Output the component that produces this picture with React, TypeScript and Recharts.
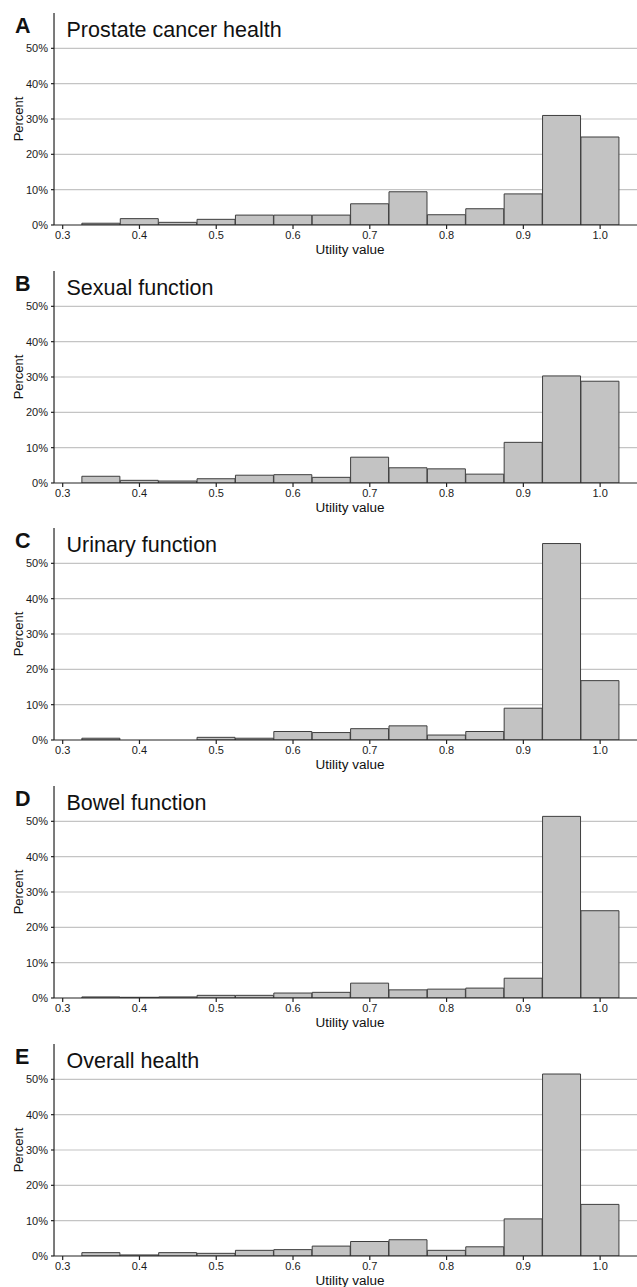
import React from 'react';
import { BarChart, Bar, XAxis, YAxis, CartesianGrid, Label } from 'recharts';

// Bin centers of the utility-value histogram (bin width 0.05)
const binCenters = [0.35, 0.4, 0.45, 0.5, 0.55, 0.6, 0.65, 0.7, 0.75, 0.8, 0.85, 0.9, 0.95, 1.0];

// Percent of respondents per bin
const prostateCancerHealth = [0.5, 1.8, 0.75, 1.6, 2.8, 2.8, 2.8, 6.0, 9.4, 2.9, 4.6, 8.8, 31.0, 24.9];
const sexualFunction = [1.9, 0.75, 0.55, 1.2, 2.2, 2.35, 1.6, 7.3, 4.3, 4.0, 2.5, 11.5, 30.3, 28.8];
const urinaryFunction = [0.5, 0, 0, 0.75, 0.5, 2.4, 2.1, 3.2, 4.0, 1.4, 2.4, 9.0, 55.6, 16.8];
const bowelFunction = [0.3, 0.2, 0.3, 0.75, 0.75, 1.4, 1.6, 4.2, 2.3, 2.5, 2.8, 5.6, 51.4, 24.7];
const overallHealth = [0.95, 0.3, 0.95, 0.75, 1.6, 1.8, 2.8, 4.1, 4.6, 1.6, 2.6, 10.5, 51.5, 14.6];

const panelLetters = ['A', 'B', 'C', 'D', 'E'];
const panelTitles = ['Prostate cancer health', 'Sexual function', 'Urinary function', 'Bowel function', 'Overall health'];
const panelSeries = [prostateCancerHealth, sexualFunction, urinaryFunction, bowelFunction, overallHealth];

const xTicks = [0.3, 0.4, 0.5, 0.6, 0.7, 0.8, 0.9, 1.0];
const yTicks = [0, 10, 20, 30, 40, 50];
const xDomain = [0.2887, 1.048];
const yDomain = [0, 60];
const xAxisTitle = 'Utility value';
const yAxisTitle = 'Percent';

const FONT = '"Liberation Sans", Arial, Helvetica, sans-serif';
const W = 637;
const PANEL_H = 257.7;
const TOP = 13;
const PLOT_H = 212;
const Y_AXIS_W = 54;

function Panel({ index }: { index: number }) {
  const data = binCenters.map((x, i) => ({ x, v: panelSeries[index][i] }));
  return (
    <div style={{ position: 'absolute', left: 0, top: index * PANEL_H, width: W, height: PANEL_H }}>
      <BarChart
        width={W}
        height={PANEL_H}
        data={data}
        margin={{ top: TOP, right: 0, bottom: 0, left: 0 }}
        barCategoryGap={0}
        barGap={0}
        style={{ fontFamily: FONT }}
      >
        <CartesianGrid
          vertical={false}
          horizontalValues={yTicks.slice(1)}
          syncWithTicks
          stroke="#c4c4c4"
          strokeWidth={1.2}
        />
        <XAxis
          type="number"
          dataKey="x"
          domain={xDomain}
          ticks={xTicks}
          allowDataOverflow
          height={PANEL_H - TOP - PLOT_H}
          tickFormatter={(v: number) => v.toFixed(1)}
          tick={{ fontSize: 11, fill: '#1a1a1a', fontFamily: FONT }}
          tickSize={4}
          tickMargin={2}
          stroke="#222"
          strokeWidth={1.2}
          interval={0}
        >
          <Label
            content={(props: any) => {
              const vb = props.viewBox || {};
              const cx = (vb.x ?? Y_AXIS_W) + (vb.width ?? W - Y_AXIS_W) / 2 + 4.5;
              const by = (vb.y ?? TOP + PLOT_H) + 29.5;
              return (
                <text
                  x={cx}
                  y={by}
                  textAnchor="middle"
                  style={{ fontSize: 13.5, fill: '#111', fontFamily: FONT }}
                >
                  {xAxisTitle}
                </text>
              );
            }}
          />
        </XAxis>
        <YAxis
          type="number"
          domain={yDomain}
          ticks={yTicks}
          width={Y_AXIS_W}
          allowDataOverflow
          tickFormatter={(v: number) => `${v}%`}
          tick={{ fontSize: 11, fill: '#1a1a1a', fontFamily: FONT }}
          tickSize={3}
          tickMargin={3}
          stroke="#222"
          strokeWidth={1.2}
          interval={0}
        >
          <Label
            content={(props: any) => {
              const vb = props.viewBox || {};
              const cx = 18;
              const cy = (vb.y ?? TOP) + (vb.height ?? PLOT_H) / 2;
              return (
                <text
                  x={cx}
                  y={cy}
                  transform={`rotate(-90 ${cx} ${cy})`}
                  textAnchor="middle"
                  dominantBaseline="central"
                  style={{ fontSize: 13, fill: '#111', fontFamily: FONT }}
                >
                  {yAxisTitle}
                </text>
              );
            }}
          />
        </YAxis>
        <Bar dataKey="v" fill="#c3c3c3" stroke="#3d3d3d" strokeWidth={1} isAnimationActive={false} />
      </BarChart>
      <svg width={W} height={45} style={{ position: 'absolute', left: 0, top: 0, pointerEvents: 'none' }}>
        <text x={15} y={33.3} style={{ fontSize: 21.5, fontWeight: 'bold', fill: '#111', fontFamily: FONT }}>
          {panelLetters[index]}
        </text>
        <text x={66.5} y={37} style={{ fontSize: 21.5, fill: '#111', fontFamily: FONT }}>
          {panelTitles[index]}
        </text>
      </svg>
    </div>
  );
}

export default function App() {
  return (
    <div style={{ position: 'absolute', left: 0, top: 0, width: W, height: 1287, background: '#fff' }}>
      {panelTitles.map((_, i) => (
        <Panel key={i} index={i} />
      ))}
    </div>
  );
}
